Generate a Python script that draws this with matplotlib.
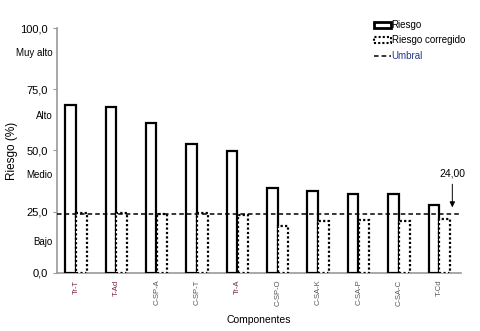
import matplotlib
matplotlib.use("Agg")
import matplotlib.pyplot as plt
import numpy as np
from matplotlib.patches import Patch
from matplotlib.lines import Line2D

plt.rcParams['font.family'] = ['Liberation Sans', 'DejaVu Sans']

componentes = ["Tr-T", "T-Ad", "C-SP-A", "C-SP-T", "Tr-A", "C-SP-O", "C-SA-K", "C-SA-P", "C-SA-C", "T-Cd"]
riesgo = [68.6, 67.9, 61.3, 52.7, 49.9, 34.8, 33.6, 32.1, 32.1, 27.6]
riesgo_corregido = [24.3, 24.3, 24.2, 24.3, 23.5, 19.3, 21.3, 21.6, 21.3, 22.1]
umbral = 24.0
label_colors = ["#7a1f45", "#7a1f45", "#555555", "#555555", "#7a1f45", "#555555", "#555555", "#555555", "#555555", "#555555"]

fig = plt.figure(figsize=(4.8, 3.31), dpi=100)
ax = fig.add_axes([0.119, 0.176, 0.841, 0.739])

x = np.arange(len(componentes))
w = 0.26
ax.bar(x - 0.17, riesgo, width=w, facecolor="white", edgecolor="black", linewidth=1.6, zorder=3)
ax.bar(x + 0.10, riesgo_corregido, width=w, facecolor="white", edgecolor="black", linewidth=1.6,
       linestyle=(0, (1, 1)), zorder=3)
ax.axhline(umbral, color="black", linestyle=(0, (3, 2)), linewidth=1.1, zorder=4)

ax.set_xlim(-0.5, len(componentes) - 0.5)
ax.set_ylim(0, 100)
ax.set_yticks([0, 25, 50, 75, 100])
ax.set_yticklabels(["0,0", "25,0", "50,0", "75,0", "100,0"], fontsize=8)
for v, t in [(12.5, "Bajo"), (39.8, "Medio"), (64.0, "Alto"), (90.0, "Muy alto")]:
    ax.text(-0.012, v, t, transform=ax.get_yaxis_transform(), ha="right", va="center", fontsize=7)

ax.set_xticks(x - 0.03)
ax.set_xticklabels(componentes, rotation=90, fontsize=5.5)
for lbl, c in zip(ax.get_xticklabels(), label_colors):
    lbl.set_color(c)
ax.tick_params(axis="x", length=0, pad=5)
ax.tick_params(axis="y", length=3, color="#999999")

for s in ["top", "right"]:
    ax.spines[s].set_visible(False)
for s in ["left", "bottom"]:
    ax.spines[s].set_color("#999999")
    ax.spines[s].set_linewidth(1.2)

ax.set_ylabel("Riesgo (%)", fontsize=8.5)
ax.yaxis.set_label_coords(-0.097, 0.5)
ax.set_xlabel("Componentes", fontsize=7.5, labelpad=6)

ax.annotate("24,00", xy=(9.29, 25.6), xytext=(9.29, 40.5), ha="center", va="center", fontsize=7.5,
            arrowprops=dict(arrowstyle="-|>", color="black", lw=0.7, mutation_scale=8))

handles = [Patch(facecolor="white", edgecolor="black", linewidth=2),
           Patch(facecolor="white", edgecolor="black", linewidth=1.5, linestyle=(0, (1, 1))),
           Line2D([0], [0], color="black", linestyle=(0, (3, 2)), linewidth=1.1)]
leg = ax.legend(handles, ["Riesgo", "Riesgo corregido", "Umbral"], loc="upper left",
                bbox_to_anchor=(0.785, 1.033), frameon=False, fontsize=7,
                handlelength=1.7, handleheight=0.55, handletextpad=0.1, labelspacing=0.55,
                borderpad=0, borderaxespad=0)
leg.get_texts()[2].set_color("#1f3a8a")

fig.savefig("out.png", dpi=100)
